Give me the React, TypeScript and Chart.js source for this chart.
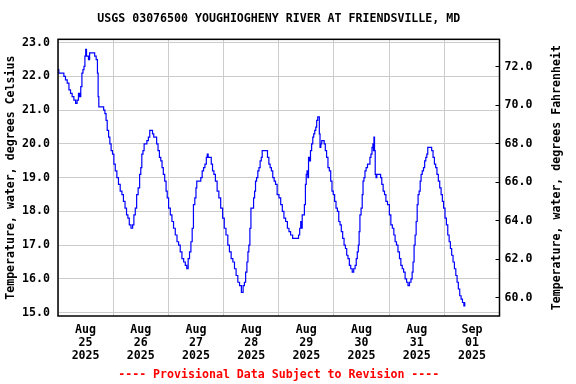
import React, { useEffect, useRef } from "react";
import { Chart, registerables } from "chart.js";

Chart.register(...registerables);

// Hours since 2025-08-25 00:00 and water temperature (deg C)
const hours = [
  0, 0.7, 2.2, 2.9, 3.6, 4.4, 5.1, 5.8, 6.5, 7.3, 8.0, 8.6, 9.2, 9.6, 10.2, 10.6, 11.1, 11.5, 11.9, 12.2,
  12.6, 13.0, 13.5, 14.0, 15.7, 16.2, 17.0, 17.3, 17.6, 17.9, 19.6, 20.1, 20.7, 21.1, 21.7, 22.3, 22.8, 23.4,
  24.0, 24.6, 25.2, 26.0, 26.6, 27.5, 28.1, 28.8, 29.5, 30.1, 30.7, 31.3, 32.2, 32.7, 33.3, 33.9, 34.5, 35.2,
  35.8, 36.2, 36.7, 37.2, 37.7, 38.3, 39.0, 39.6, 40.2, 40.9, 41.3, 42.0, 42.6, 43.2, 43.8, 44.4, 45.0, 45.5,
  46.1, 46.7, 47.3, 47.7, 48.5, 49.2, 49.9, 50.6, 51.4, 52.1, 52.8, 53.5, 54.3, 55.0, 55.7, 56.3, 56.9, 57.5,
  58.1, 58.6, 59.2, 59.8, 60.2, 60.5, 61.8, 62.4, 63.0, 63.6, 64.2, 64.8, 65.0, 65.6, 66.4, 66.9, 67.5, 68.1,
  68.8, 69.6, 70.3, 71.2, 72.0, 72.6, 73.5, 74.2, 74.9, 75.7, 76.4, 77.1, 77.8, 78.6, 79.3, 80.2, 80.8, 81.3,
  81.9, 82.4, 82.8, 83.2, 83.7, 84.1, 84.8, 85.3, 85.7, 86.1, 86.6, 87.2, 87.6, 88.2, 88.6, 89.0, 90.1, 90.8,
  91.4, 92.0, 92.5, 93.1, 93.7, 94.3, 94.9, 95.7, 96.5, 97.2, 97.9, 98.6, 99.4, 100.1, 100.8, 101.5, 102.6,
  104.3, 104.9, 105.3, 105.8, 106.1, 106.3, 106.9, 107.4, 107.8, 108.1, 108.5, 108.8, 109.1, 109.6, 110.0,
  110.6, 111.0, 111.4, 111.9, 112.3, 112.7, 113.2, 113.5, 113.8, 114.1, 114.5, 114.9, 115.5, 116.0, 116.5,
  117.1, 117.7, 118.3, 118.9, 119.4, 120.0, 120.6, 121.2, 121.8, 122.4, 122.9, 123.5, 124.1, 124.7, 125.3,
  125.8, 126.4, 127.0, 127.6, 128.3, 128.9, 129.5, 129.9, 130.4, 130.8, 131.1, 131.5, 132.1, 132.5, 132.8,
  133.3, 133.7, 134.3, 134.9, 135.4, 135.9, 136.3, 136.8, 137.1, 137.3, 137.5, 137.8, 138.1, 138.5, 138.8,
  140.1, 140.5, 141.1, 141.7, 142.3, 142.9, 143.7, 144.5, 145.0, 145.8, 146.3, 146.9, 147.5, 148.2, 148.8,
  149.4, 150.0, 150.6, 151.3, 151.9, 152.5, 153.2, 153.8, 154.2, 154.6, 155.1, 155.5, 156.0, 156.4, 156.8,
  157.3, 157.7, 158.1, 158.7, 159.2, 159.7, 160.2, 160.6, 161.0, 162.2, 162.8, 163.4, 164.0, 164.5, 165.1,
  165.7, 166.3, 166.9, 167.4, 168.0, 168.6, 169.2, 169.8, 170.4, 170.9, 171.5, 172.1, 172.7, 173.3, 173.8,
  174.4, 175.0, 175.6, 176.2, 176.8, 177.0,
];

const tempC = [
  22.2, 22.1, 22.1, 22.0, 21.9, 21.8, 21.6, 21.5, 21.4, 21.3, 21.2, 21.3, 21.5, 21.4, 21.7, 22.1, 22.2, 22.3, 22.6, 22.8,
  22.6, 22.6, 22.5, 22.7, 22.7, 22.6, 22.5, 22.1, 21.4, 21.1, 21.1, 21.0, 20.9, 20.7, 20.4, 20.2, 20.0, 19.8,
  19.7, 19.4, 19.2, 19.0, 18.8, 18.6, 18.5, 18.3, 18.1, 17.9, 17.8, 17.6, 17.5, 17.6, 17.9, 18.1, 18.5, 18.7,
  19.1, 19.3, 19.7, 19.8, 20.0, 20.0, 20.1, 20.2, 20.4, 20.4, 20.3, 20.2, 20.2, 20.0, 19.8, 19.6, 19.5, 19.3,
  19.1, 18.9, 18.6, 18.4, 18.1, 17.9, 17.7, 17.5, 17.3, 17.1, 17.0, 16.8, 16.6, 16.5, 16.4, 16.3, 16.6, 16.8,
  17.1, 17.5, 18.2, 18.4, 18.7, 18.9, 18.9, 19.0, 19.2, 19.3, 19.4, 19.6, 19.7, 19.6, 19.6, 19.4, 19.2, 19.1,
  18.9, 18.6, 18.4, 18.1, 17.8, 17.5, 17.3, 17.0, 16.8, 16.6, 16.5, 16.3, 16.1, 15.9, 15.8, 15.6, 15.8, 15.9,
  16.2, 16.5, 16.8, 17.0, 17.5, 18.1, 18.1, 18.4, 18.6, 18.9, 19.0, 19.2, 19.3, 19.5, 19.6, 19.8, 19.8, 19.8,
  19.6, 19.4, 19.3, 19.2, 19.0, 18.9, 18.8, 18.5, 18.4, 18.2, 18.0, 17.8, 17.7, 17.5, 17.4, 17.3, 17.2,
  17.2, 17.3, 17.5, 17.7, 17.5, 17.9, 17.9, 18.2, 18.8, 19.1, 19.2, 19.0, 19.6, 19.5, 19.8,
  20.0, 20.2, 20.3, 20.4, 20.5, 20.7, 20.8, 20.8, 20.3, 19.9, 20.0, 20.1, 20.1, 20.0, 19.8,
  19.6, 19.3, 19.2, 18.9, 18.6, 18.5, 18.3, 18.1, 18.0, 17.7, 17.6, 17.4, 17.2, 17.0, 16.9,
  16.7, 16.6, 16.4, 16.3, 16.2, 16.3, 16.4, 16.6, 16.8, 17.0, 17.4, 17.9, 18.1, 18.5, 18.9,
  19.0, 19.2, 19.3, 19.4, 19.4, 19.6, 19.7, 19.9, 20.0, 19.8, 20.2, 19.8, 19.1, 19.0, 19.1,
  19.1, 19.0, 18.8, 18.6, 18.5, 18.3, 18.2, 17.9, 17.6, 17.5, 17.3, 17.1, 17.0, 16.8, 16.6,
  16.4, 16.3, 16.2, 16.0, 15.9, 15.8, 15.9, 16.0, 16.2, 16.5, 17.0, 17.3, 17.7, 18.2, 18.5,
  18.6, 18.9, 19.1, 19.2, 19.3, 19.5, 19.6, 19.7, 19.9, 19.9, 19.8, 19.6, 19.4, 19.3, 19.1,
  18.9, 18.7, 18.5, 18.3, 18.1, 17.8, 17.6, 17.3, 17.1, 16.9, 16.7, 16.5, 16.3, 16.1, 15.9,
  15.7, 15.5, 15.4, 15.3, 15.2, 15.3,
];

const tickMonths = ["Aug", "Aug", "Aug", "Aug", "Aug", "Aug", "Aug", "Sep"];
const tickDays = ["25", "26", "27", "28", "29", "30", "31", "01"];
const tickYears = ["2025", "2025", "2025", "2025", "2025", "2025", "2025", "2025"];

const chartTitle = "USGS 03076500 YOUGHIOGHENY RIVER AT FRIENDSVILLE, MD";
const leftTitle = "Temperature, water, degrees Celsius";
const rightTitle = "Temperature, water, degrees Fahrenheit";
const footerText = "---- Provisional Data Subject to Revision ----";

const FONT_FAMILY = "'DejaVu Sans Mono', 'Liberation Mono', monospace";
const FONT_SIZE = 11.6;

const framePlugin = {
  id: "frame",
  afterDraw(chart: any) {
    const { ctx, chartArea: a } = chart;
    ctx.save();
    ctx.strokeStyle = "#000";
    ctx.lineWidth = 1.5;
    ctx.strokeRect(a.left, a.top, a.right - a.left, a.bottom - a.top);
    ctx.translate(a.right + 57, (a.top + a.bottom) / 2);
    ctx.rotate(-Math.PI / 2);
    ctx.font = `bold ${FONT_SIZE}px ${FONT_FAMILY}`;
    ctx.fillStyle = "#000";
    ctx.textAlign = "center";
    ctx.textBaseline = "middle";
    ctx.fillText(rightTitle, 0, 0);
    ctx.restore();
  },
};

export default function App() {
  const canvasRef = useRef<HTMLCanvasElement | null>(null);

  useEffect(() => {
    if (!canvasRef.current) return;
    Chart.defaults.color = "#000";
    const font = { family: FONT_FAMILY, size: FONT_SIZE, weight: "bold" as const };
    const chart = new Chart(canvasRef.current, {
      type: "line",
      data: {
        datasets: [
          {
            data: hours.map((h, i) => ({ x: h, y: tempC[i] })),
            borderColor: "#0000ff",
            borderWidth: 1.2,
            pointRadius: 0,
            stepped: "middle",
            yAxisID: "y",
            xAxisID: "x",
          },
        ],
      },
      options: {
        animation: false,
        responsive: false,
        devicePixelRatio: 1,
        layout: { padding: 0 },
        plugins: {
          legend: { display: false },
          tooltip: { enabled: false },
          title: {
            display: true,
            text: chartTitle,
            fullSize: false,
            font: { ...font, lineHeight: 1.2 },
            color: "#000",
            padding: { top: 12, bottom: 13.4 },
          },
          subtitle: {
            display: true,
            position: "bottom",
            text: footerText,
            fullSize: false,
            font: { ...font, lineHeight: 1.2 },
            color: "#ff0000",
            padding: { top: 4, bottom: 2 },
          },
        },
        scales: {
          x: {
            type: "linear",
            min: 0,
            max: 192,
            border: { display: false },
            grid: {
              drawTicks: false,
              lineWidth: 1,
              color: (ctx: any) =>
                ctx.tick && ctx.tick.value % 24 === 0 ? "#cccccc" : "rgba(0,0,0,0)",
            },
            afterBuildTicks: (scale: any) => {
              const t = [];
              for (let v = 0; v <= 192; v += 12) t.push({ value: v });
              scale.ticks = t;
            },
            afterFit: (scale: any) => {
              scale.height = 48.08;
            },
            ticks: {
              autoSkip: false,
              maxRotation: 0,
              minRotation: 0,
              padding: 7.6,
              font: { ...font, lineHeight: 1.1 },
              color: "#000",
              callback: (value: any) => {
                const v = Number(value);
                if (v % 24 === 12) {
                  const i = (v - 12) / 24;
                  return [tickMonths[i], tickDays[i], tickYears[i]];
                }
                return "";
              },
            },
          },
          y: {
            type: "linear",
            position: "left",
            min: 14.9,
            max: 23.1,
            border: { display: false },
            grid: { drawTicks: false, color: "#cccccc", lineWidth: 1 },
            afterFit: (scale: any) => {
              scale.width = 58;
            },
            ticks: {
              stepSize: 1,
              includeBounds: false,
              padding: 8,
              font,
              color: "#000",
              callback: (value: any) => Number(value).toFixed(1),
            },
            title: {
              display: true,
              text: leftTitle,
              font: { ...font, lineHeight: 1.2 },
              color: "#000",
              padding: { top: 4.5, bottom: 0 },
            },
          },
          y2: {
            type: "linear",
            position: "right",
            display: true,
            min: 59.05,
            max: 73.42,
            border: { display: false },
            grid: {
              drawOnChartArea: false,
              drawTicks: true,
              tickLength: -4,
              color: "#000",
              lineWidth: 1,
            },
            afterFit: (scale: any) => {
              scale.width = 76.5;
            },
            ticks: {
              stepSize: 2,
              includeBounds: false,
              padding: 9,
              font,
              color: "#000",
              callback: (value: any) => Number(value).toFixed(1),
            },
          },
        },
      },
      plugins: [framePlugin],
    } as any);
    return () => chart.destroy();
  }, []);

  return (
    <div style={{ position: "fixed", left: 0, top: 0, width: 576, height: 384, background: "#fff" }}>
      <canvas ref={canvasRef} width={576} height={384} style={{ display: "block" }} />
    </div>
  );
}
